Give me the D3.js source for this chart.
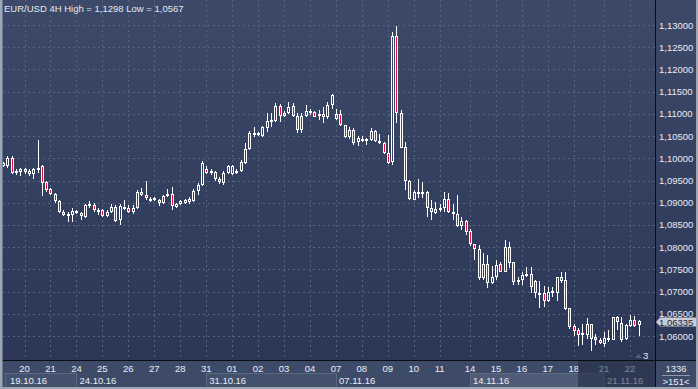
<!DOCTYPE html>
<html lang="en">
<head>
<meta charset="UTF-8">
<title>EUR/USD 4H</title>
<script src="https://d3js.org/d3.v7.min.js"></script>
<style>
  body { margin: 0; padding: 0; background: #2c3757; }
  svg { display: block; }
  text { font-family: "Liberation Sans", Arial, sans-serif; font-size: 9.5px; }
</style>
</head>
<body>
<svg id="chart" width="698" height="389"></svg>
<script>
// 4H candles (index 0 = first visible bar on 19.10.16)
const opens = [1.0983,1.0982,1.1001,1.0968,1.0969,1.0970,1.0972,1.0964,1.0975,1.0983,
  1.0947,1.0930,1.0920,1.0904,1.0880,1.0872,1.0873,1.0882,1.0877,1.0868,
  1.0893,1.0895,1.0881,1.0884,1.0870,1.0879,1.0891,1.0861,1.0889,1.0889,
  1.0878,1.0889,1.0925,1.0917,1.0905,1.0910,1.0906,1.0899,1.0914,1.0920,
  1.0891,1.0898,1.0900,1.0902,1.0904,1.0926,1.0940,1.0977,1.0966,1.0969,
  1.0954,1.0944,1.0967,1.0965,1.0968,1.0972,1.0990,1.1022,1.1055,1.1058,
  1.1050,1.1069,1.1082,1.1084,1.1118,1.1096,1.1103,1.1118,1.1096,1.1064,
  1.1095,1.1103,1.1104,1.1095,1.1100,1.1094,1.1120,1.1088,1.1100,1.1075,
  1.1047,1.1064,1.1037,1.1040,1.1043,1.1042,1.1062,1.1040,1.1035,1.1013,
  1.0992,1.1275,1.1103,1.1026,1.0950,1.0907,1.0921,1.0922,1.0925,1.0889,
  1.0877,1.0885,1.0887,1.0908,1.0879,1.0875,1.0848,1.0858,1.0836,1.0806,
  1.0796,1.0731,1.0762,1.0720,1.0732,1.0761,1.0745,1.0801,1.0766,1.0722,
  1.0727,1.0736,1.0739,1.0724,1.0696,1.0696,1.0679,1.0701,1.0696,1.0733,
  1.0725,1.0662,1.0623,1.0613,1.0603,1.0602,1.0627,1.0597,1.0591,1.0583,
  1.0592,1.0592,1.0642,1.0630,1.0594,1.0623,1.0635,1.0624]
const highs = [1.0992,1.1006,1.1005,1.0975,1.0979,1.0978,1.0975,1.0979,1.1042,1.0985,
  1.0949,1.0932,1.0922,1.0906,1.0883,1.0879,1.0887,1.0883,1.0880,1.0897,
  1.0903,1.0899,1.0887,1.0885,1.0883,1.0897,1.0894,1.0897,1.0906,1.0894,
  1.0894,1.0929,1.0933,1.0948,1.0912,1.0913,1.0908,1.0918,1.0931,1.0935,
  1.0899,1.0906,1.0908,1.0912,1.0930,1.0944,1.0993,1.0982,1.0975,1.0972,
  1.0957,1.0971,1.0985,1.0986,1.0976,1.0996,1.1034,1.1061,1.1070,1.1060,
  1.1072,1.1101,1.1101,1.1124,1.1122,1.1106,1.1126,1.1124,1.1103,1.1101,
  1.1121,1.1112,1.1107,1.1109,1.1115,1.1126,1.1145,1.1112,1.1109,1.1076,
  1.1071,1.1068,1.1050,1.1050,1.1045,1.1068,1.1063,1.1055,1.1037,1.1052,
  1.1285,1.1298,1.1108,1.1036,1.0952,1.0928,1.0953,1.0946,1.0927,1.0905,
  1.0902,1.0897,1.0925,1.0921,1.0897,1.0918,1.0868,1.0862,1.0840,1.0806,
  1.0805,1.0786,1.0782,1.0757,1.0771,1.0767,1.0816,1.0811,1.0767,1.0733,
  1.0745,1.0756,1.0755,1.0726,1.0723,1.0712,1.0711,1.0711,1.0733,1.0743,
  1.0743,1.0664,1.0628,1.0617,1.0628,1.0640,1.0628,1.0604,1.0596,1.0610,
  1.0613,1.0643,1.0645,1.0643,1.0626,1.0647,1.0646,1.0637]
const lows = [1.0980,1.0979,1.0964,1.0962,1.0960,1.0965,1.0960,1.0954,1.0968,1.0914,
  1.0925,1.0918,1.0900,1.0877,1.0869,1.0856,1.0857,1.0874,1.0860,1.0866,
  1.0888,1.0880,1.0872,1.0868,1.0868,1.0877,1.0857,1.0849,1.0883,1.0876,
  1.0874,1.0886,1.0914,1.0906,1.0901,1.0903,1.0892,1.0896,1.0912,1.0883,
  1.0888,1.0895,1.0897,1.0898,1.0902,1.0918,1.0938,1.0965,1.0963,1.0950,
  1.0942,1.0940,1.0964,1.0962,1.0964,1.0970,1.0988,1.1019,1.1049,1.1050,
  1.1048,1.1060,1.1071,1.1082,1.1082,1.1093,1.1100,1.1094,1.1058,1.1058,
  1.1092,1.1098,1.1092,1.1086,1.1079,1.1088,1.1112,1.1086,1.1073,1.1045,
  1.1044,1.1030,1.1027,1.1037,1.1030,1.1039,1.1036,1.1033,1.1010,1.0988,
  1.0985,1.1080,1.1023,1.0928,1.0906,1.0905,1.0911,1.0911,1.0867,1.0860,
  1.0875,1.0880,1.0878,1.0877,1.0862,1.0845,1.0838,1.0828,1.0803,1.0772,
  1.0726,1.0727,1.0707,1.0717,1.0726,1.0743,1.0743,1.0754,1.0715,1.0715,
  1.0715,1.0733,1.0696,1.0685,1.0664,1.0666,1.0676,1.0688,1.0679,1.0720,
  1.0659,1.0616,1.0600,1.0577,1.0579,1.0594,1.0567,1.0579,1.0582,1.0576,
  1.0587,1.0590,1.0614,1.0587,1.0590,1.0621,1.0621,1.0600]
const closes = [1.0990,1.1000,1.0968,1.0972,1.0975,1.0975,1.0964,1.0975,1.0979,1.0945,
  1.0929,1.0920,1.0904,1.0879,1.0872,1.0875,1.0882,1.0878,1.0870,1.0895,
  1.0897,1.0883,1.0884,1.0870,1.0880,1.0891,1.0859,1.0892,1.0891,1.0878,
  1.0889,1.0925,1.0918,1.0910,1.0909,1.0905,1.0900,1.0914,1.0919,1.0893,
  1.0897,1.0903,1.0905,1.0908,1.0926,1.0940,1.0989,1.0968,1.0971,1.0953,
  1.0946,1.0968,1.0982,1.0983,1.0972,1.0992,1.1022,1.1058,1.1058,1.1052,
  1.1070,1.1083,1.1086,1.1118,1.1096,1.1103,1.1116,1.1096,1.1064,1.1095,
  1.1106,1.1106,1.1094,1.1100,1.1094,1.1120,1.1142,1.1100,1.1075,1.1047,
  1.1064,1.1035,1.1046,1.1044,1.1044,1.1062,1.1038,1.1035,1.1013,1.0990,
  1.1275,1.1102,1.1024,1.0950,1.0908,1.0924,1.0924,1.0924,1.0888,1.0880,
  1.0885,1.0888,1.0908,1.0880,1.0875,1.0848,1.0858,1.0835,1.0807,1.0796,
  1.0731,1.0762,1.0720,1.0732,1.0760,1.0745,1.0801,1.0765,1.0722,1.0727,
  1.0737,1.0740,1.0711,1.0696,1.0697,1.0679,1.0700,1.0696,1.0732,1.0723,
  1.0661,1.0621,1.0612,1.0602,1.0607,1.0627,1.0594,1.0591,1.0585,1.0596,
  1.0596,1.0642,1.0631,1.0592,1.0624,1.0636,1.0623,1.06335]

// day labels and the bar index where each day starts
const dayLabels = ["20","21","24","25","26","27","28","31","01","02","03","04",
  "07","08","09","10","11","14","15","16","17","18","21","22"]
const dayStarts = [5,11,17,23,29,35,41,47,53,59,65,71,77,83,89,95,101,108,114,120,126,132,139,145]

const weekLabels = ["19.10.16","24.10.16","31.10.16","07.11.16","14.11.16","21.11.16"]
const weekStarts = [0,17,47,77,108,139]

const priceTicks = [1.060,1.065,1.070,1.075,1.080,1.085,1.090,1.095,1.100,1.105,1.110,1.115,1.120,1.125,1.130]

const lastPrice = 1.06335
const title = "EUR/USD 4H High = 1,1298 Low = 1,0567"

const W = 698, H = 389
const plotLeft = 3, plotRight = 655, plotBottom = 360
const svg = d3.select("#chart")

// background gradient
const defs = svg.append("defs")
const grad = defs.append("linearGradient").attr("id", "bg").attr("x1", 0).attr("y1", 0).attr("x2", 0).attr("y2", 1)
grad.append("stop").attr("offset", "0%").attr("stop-color", "#3c4968")
grad.append("stop").attr("offset", "100%").attr("stop-color", "#2c3757")
defs.append("clipPath").attr("id", "plotclip").append("rect")
    .attr("x", plotLeft).attr("y", 0).attr("width", plotRight - plotLeft).attr("height", plotBottom)

svg.append("rect").attr("width", W).attr("height", plotBottom).attr("fill", "url(#bg)")

const x = d3.scaleLinear().domain([0, 150]).range([2.9, 2.9 + 150 * 4.325])
const y = d3.scaleLinear().domain([1.06, 1.13]).range([336, 25])

const px = v => Math.round(v) + 0.5

// grid
const grid = svg.append("g").attr("clip-path", "url(#plotclip)")
    .attr("stroke", "#56637f").attr("stroke-dasharray", "2,3").attr("stroke-width", 1)
grid.selectAll(".hg").data(priceTicks).enter().append("line")
    .attr("x1", plotLeft).attr("x2", plotRight)
    .attr("y1", d => px(y(d))).attr("y2", d => px(y(d)))
grid.selectAll(".vg").data(dayStarts).enter().append("line")
    .attr("x1", d => px(x(d))).attr("x2", d => px(x(d)))
    .attr("y1", 0).attr("y2", plotBottom)

// candles
const bars = d3.range(closes.length).map(i => ({
    i: i, o: opens[i], h: highs[i], l: lows[i], c: closes[i]
}))
const candles = svg.append("g").attr("clip-path", "url(#plotclip)")
const cg = candles.selectAll("g").data(bars).enter().append("g")

cg.append("line")
    .attr("x1", d => px(x(d.i))).attr("x2", d => px(x(d.i)))
    .attr("y1", d => Math.round(y(d.h))).attr("y2", d => Math.round(y(Math.max(d.o, d.c))))
    .attr("stroke", "#ffffff")
cg.append("line")
    .attr("x1", d => px(x(d.i))).attr("x2", d => px(x(d.i)))
    .attr("y1", d => Math.round(y(Math.min(d.o, d.c)))).attr("y2", d => Math.round(y(d.l)))
    .attr("stroke", "#ffffff")
cg.append("rect")
    .attr("x", d => Math.round(x(d.i)) - 0.5)
    .attr("width", 2)
    .attr("y", d => Math.round(y(Math.max(d.o, d.c))) + 0.5)
    .attr("height", d => Math.max(1, Math.round(y(Math.min(d.o, d.c))) - Math.round(y(Math.max(d.o, d.c))) - 1))
    .attr("fill", d => d.c < d.o ? "#e0103c" : "none")
    .attr("stroke", "#ffffff")

// small marker bottom right of the plot
svg.append("path").attr("d", "M635,358 L638.5,354 L642,358 Z").attr("fill", "#56627e")
svg.append("text").attr("x", 643).attr("y", 359).attr("fill", "#e8edf5").text("3")

// title
svg.append("text").attr("x", 4).attr("y", 12).attr("fill", "#e6e8ee").text(title)

// bottom axis band
svg.append("rect").attr("x", 0).attr("y", plotBottom).attr("width", W).attr("height", H - plotBottom).attr("fill", "#3e4b68")

const weekEnds = weekStarts.slice(1).concat([150.5])
const weeks = svg.append("g")
weeks.selectAll("rect").data(weekLabels).enter().append("rect")
    .attr("x", (d, k) => k === 0 ? 5.5 : px(x(weekStarts[k])))
    .attr("y", 373.5)
    .attr("width", (d, k) => px(x(weekEnds[k])) - (k === 0 ? 5.5 : px(x(weekStarts[k]))))
    .attr("height", 14)
    .attr("fill", (d, k) => k === 4 ? "#4f5c78" : (k % 2 === 0 ? "#44516d" : "none"))
    .attr("stroke", (d, k) => k % 2 === 0 ? "#5b6884" : "none")
weeks.selectAll("text").data(weekLabels).enter().append("text")
    .attr("x", (d, k) => (k === 0 ? 10 : x(weekStarts[k]) + 3))
    .attr("y", 384)
    .attr("fill", "#e8edf5")
    .text(d => d)

svg.append("g").selectAll("text").data(dayLabels).enter().append("text")
    .attr("x", (d, k) => x(dayStarts[k]))
    .attr("y", 372)
    .attr("text-anchor", "middle")
    .attr("fill", "#e8edf5")
    .text(d => d)

// dimmed area for the running week
svg.append("rect").attr("x", 578).attr("y", plotBottom).attr("width", plotRight - 578).attr("height", H - plotBottom)
    .attr("fill", "#1f2942").attr("opacity", 0.55)

// right price axis (the last price tag is drawn over the 1,06500 label, as in the source)
svg.append("g").selectAll("text").data(priceTicks).enter().append("text")
    .attr("x", 659)
    .attr("y", d => y(d) + 3.5)
    .attr("fill", "#e8edf5")
    .text(d => d.toFixed(5).replace(".", ","))

// last price tag
const ly = y(lastPrice) + 1
svg.append("path")
    .attr("d", `M656,${ly} L660,${ly - 4.5} L696,${ly - 4.5} L696,${ly + 4.5} L660,${ly + 4.5} Z`)
    .attr("fill", "#c9cdd6")
svg.append("text").attr("x", 659).attr("y", ly + 3.5).attr("fill", "#1c2232").text(lastPrice.toFixed(5).replace(".", ","))

// bottom right info box
svg.append("rect").attr("x", 656).attr("y", plotBottom).attr("width", W - 656).attr("height", H - plotBottom).attr("fill", "#3e4b68")
svg.append("text").attr("x", 676).attr("y", 372).attr("text-anchor", "middle").attr("fill", "#e8edf5").text("1336")
svg.append("line").attr("x1", 662).attr("x2", 690).attr("y1", 375.5).attr("y2", 375.5).attr("stroke", "#8f98ab")
svg.append("text").attr("x", 676).attr("y", 385).attr("text-anchor", "middle").attr("fill", "#e8edf5").text(">151<")

// separators and frame
svg.append("line").attr("x1", 655.5).attr("x2", 655.5).attr("y1", 0).attr("y2", H).attr("stroke", "#0a0d14")
svg.append("line").attr("x1", 0).attr("x2", W).attr("y1", 360.5).attr("y2", 360.5).attr("stroke", "#0a0d14")
svg.append("rect").attr("x", 0).attr("y", 0).attr("width", 2.5).attr("height", H).attr("fill", "#9ea6b6")
svg.append("rect").attr("x", 696).attr("y", 0).attr("width", 2).attr("height", H).attr("fill", "#9ea6b6")
svg.append("rect").attr("x", 0).attr("y", 387).attr("width", W).attr("height", 2).attr("fill", "#9ea6b6")
</script>
</body>
</html>
